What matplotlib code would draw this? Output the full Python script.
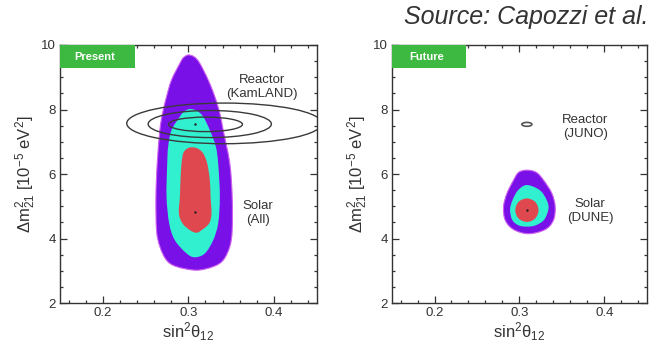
import numpy as np
import matplotlib
matplotlib.use("Agg")
import matplotlib.pyplot as plt
from matplotlib.path import Path
from matplotlib.patches import PathPatch, Ellipse, Rectangle
from matplotlib.ticker import MultipleLocator

plt.rcParams['font.family'] = ['Liberation Sans', 'DejaVu Sans']
plt.rcParams['mathtext.fontset'] = 'custom'
plt.rcParams['mathtext.rm'] = 'Liberation Sans'
plt.rcParams['mathtext.it'] = 'Liberation Sans'

# ---- Present: solar (all experiments) allowed regions, boundary points (sin^2 theta12, dm2_21)
present_3sig_x = [0.2998, 0.3070, 0.3134, 0.3232, 0.3309, 0.3368, 0.3407, 0.3484, 0.3512, 0.3512,
                  0.3484, 0.3407, 0.3290, 0.3095, 0.2862, 0.2745, 0.2667, 0.2628, 0.2621, 0.2636,
                  0.2667, 0.2698, 0.2745, 0.2803, 0.2901, 0.2940]
present_3sig_y = [9.69, 9.63, 9.43, 8.915, 8.40, 7.88, 7.36, 6.33, 5.30, 4.26,
                  3.75, 3.33, 3.13, 3.02, 3.13, 3.33, 3.75, 4.26, 5.30, 6.33,
                  7.36, 7.88, 8.40, 8.915, 9.43, 9.60]
present_2sig_x = [0.3018, 0.3100, 0.3173, 0.3251, 0.3321, 0.3348, 0.3368, 0.3348, 0.3290, 0.3193,
                  0.3076, 0.2979, 0.2842, 0.2776, 0.2745, 0.2753, 0.2764, 0.2803, 0.2901, 0.2950]
present_2sig_y = [8.016, 7.96, 7.78, 7.36, 6.85, 6.33, 5.30, 4.47, 3.95, 3.54,
                  3.42, 3.54, 3.95, 4.47, 5.30, 6.33, 6.85, 7.36, 7.78, 7.94]
present_1sig_x = [0.3037, 0.3110, 0.3173, 0.3220, 0.3251, 0.3259, 0.3270, 0.3243, 0.3154, 0.3095,
                  0.3018, 0.2932, 0.2889, 0.2901, 0.2908, 0.2920, 0.2940, 0.2980]
present_1sig_y = [6.83, 6.79, 6.64, 6.33, 5.81, 5.30, 4.78, 4.47, 4.26, 4.18,
                  4.26, 4.47, 4.78, 5.30, 5.81, 6.33, 6.64, 6.78]
present_solar_best = (0.3076, 4.83)

# KamLAND contours: centre, half-widths in sin^2 theta12 and in dm2_21
kamland_cx = [0.320, 0.325, 0.342]
kamland_cy = [7.54, 7.55, 7.57]
kamland_ax = [0.0432, 0.072, 0.114]
kamland_ay = [0.225, 0.42, 0.63]
kamland_best = (0.3076, 7.54)

# ---- Future: DUNE solar and JUNO reactor
future_3sig_x = [0.3088, 0.3200, 0.3284, 0.3382, 0.3421, 0.3401, 0.3304, 0.3107, 0.2931, 0.2833,
                 0.2813, 0.2853, 0.2931, 0.2990]
future_3sig_y = [6.12, 6.05, 5.81, 5.40, 4.99, 4.57, 4.28, 4.15, 4.28, 4.57,
                 4.99, 5.40, 5.81, 6.05]
future_2sig_x = [0.3088, 0.3240, 0.3320, 0.3342, 0.3290, 0.3190, 0.3088, 0.2990, 0.2915, 0.2890,
                 0.2920, 0.2985]
future_2sig_y = [5.66, 5.50, 5.20, 4.92, 4.58, 4.41, 4.37, 4.41, 4.58, 4.90,
                 5.20, 5.50]
future_1sig_x = [0.3088, 0.3185, 0.3225, 0.3185, 0.3088, 0.2991, 0.2951, 0.2991]
future_1sig_y = [5.245, 5.14, 4.88, 4.62, 4.515, 4.62, 4.88, 5.14]
future_solar_best = (0.3088, 4.88)
juno_c = (0.3088, 7.54)
juno_ax = 0.0059
juno_ay = 0.06

PURPLE = '#7A10E8'
CYAN = '#30F0D0'
RED = '#E04850'
GREEN = '#3DB840'
GREY = '#333333'


def closed_smooth_path(xs, ys):
    """Closed Catmull-Rom curve through the points, expressed as cubic Bezier segments."""
    p = np.column_stack([xs, ys]).astype(float)
    n = len(p)
    verts = [p[0]]
    codes = [Path.MOVETO]
    for i in range(n):
        p0, p1, p2, p3 = p[i - 1], p[i], p[(i + 1) % n], p[(i + 2) % n]
        c1 = p1 + (p2 - p0) / 6.0
        c2 = p2 - (p3 - p1) / 6.0
        verts += [c1, c2, p2]
        codes += [Path.CURVE4] * 3
    verts.append(p[0])
    codes.append(Path.CLOSEPOLY)
    return Path(verts, codes)


def region(ax, xs, ys, color, edge=None, z=2):
    patch = PathPatch(closed_smooth_path(xs, ys), facecolor=color,
                      edgecolor=edge if edge else color, lw=0.8 if edge else 0, zorder=z)
    ax.add_patch(patch)


def style_axes(ax, tag):
    ax.set_xlim(0.15, 0.45)
    ax.set_ylim(2, 10)
    ax.xaxis.set_major_locator(MultipleLocator(0.1))
    ax.xaxis.set_minor_locator(MultipleLocator(0.02))
    ax.yaxis.set_major_locator(MultipleLocator(2))
    ax.yaxis.set_minor_locator(MultipleLocator(0.5))
    ax.tick_params(which='both', direction='in', top=True, right=True, colors=GREY,
                   labelcolor=GREY, labelsize=9.5, width=0.9)
    ax.tick_params(which='major', length=5, pad=3)
    ax.tick_params(which='minor', length=2.5)
    ax.set_xticks([0.2, 0.3, 0.4])
    ax.set_xticklabels(['0.2', '0.3', '0.4'])
    ax.set_yticks([2, 4, 6, 8, 10])
    ax.set_yticklabels(['2', '4', '6', '8', '10'])
    for s in ax.spines.values():
        s.set_color(GREY)
        s.set_linewidth(1.0)
    ax.set_xlabel(r'sin$^2\theta_{12}$', fontsize=12, color=GREY, labelpad=1)
    ax.set_ylabel(r'$\Delta$m$^2_{21}$ [10$^{-5}$ eV$^2$]', fontsize=12, color=GREY, labelpad=2)
    ax.add_patch(Rectangle((0.0, 0.91), 0.292, 0.09, transform=ax.transAxes,
                           facecolor=GREEN, edgecolor='none', zorder=5))
    ax.text(0.135, 0.953, tag, transform=ax.transAxes, ha='center', va='center',
            color='white', fontsize=8, fontweight='bold', zorder=6)


fig = plt.figure(figsize=(6.6, 3.46), dpi=100)
ax1 = fig.add_axes([0.0909, 0.124, 0.389, 0.746])
ax2 = fig.add_axes([0.594, 0.124, 0.386, 0.746])

# Present panel
region(ax1, present_3sig_x, present_3sig_y, PURPLE, edge='#D060F0')
region(ax1, present_2sig_x, present_2sig_y, CYAN, z=3)
region(ax1, present_1sig_x, present_1sig_y, RED, z=4)
ax1.plot(*present_solar_best, marker='.', ms=1.5, color='#222222', zorder=6)
for cx, cy, a, b in zip(kamland_cx, kamland_cy, kamland_ax, kamland_ay):
    ax1.add_patch(Ellipse((cx, cy), 2 * a, 2 * b, facecolor='none', edgecolor='#3a3a3a',
                          lw=1.0, zorder=5))
ax1.plot(*kamland_best, marker='.', ms=1.5, color='#222222', zorder=6)
ax1.text(0.386, 8.71, 'Reactor\n(KamLAND)', ha='center', va='center', fontsize=9.5,
         color=GREY, linespacing=1.2)
ax1.text(0.381, 4.80, 'Solar\n(All)', ha='center', va='center', fontsize=9.5,
         color=GREY, linespacing=1.2)
style_axes(ax1, 'Present')

# Future panel
region(ax2, future_3sig_x, future_3sig_y, PURPLE, edge='#D060F0')
region(ax2, future_2sig_x, future_2sig_y, CYAN, z=3)
region(ax2, future_1sig_x, future_1sig_y, RED, z=4)
ax2.plot(*future_solar_best, marker='.', ms=1.5, color='#222222', zorder=6)
ax2.add_patch(Ellipse(juno_c, 2 * juno_ax, 2 * juno_ay, facecolor='none',
                      edgecolor='#555555', lw=1.2, zorder=5))
ax2.text(0.3774, 7.46, 'Reactor\n(JUNO)', ha='center', va='center', fontsize=9.5,
         color=GREY, linespacing=1.2)
ax2.text(0.3833, 4.85, 'Solar\n(DUNE)', ha='center', va='center', fontsize=9.5,
         color=GREY, linespacing=1.2)
style_axes(ax2, 'Future')

fig.text(0.982, 0.952, 'Source: Capozzi et al.', ha='right', va='center', fontsize=18,
         style='italic', color='#333333')

fig.savefig('out.png', dpi=100)
